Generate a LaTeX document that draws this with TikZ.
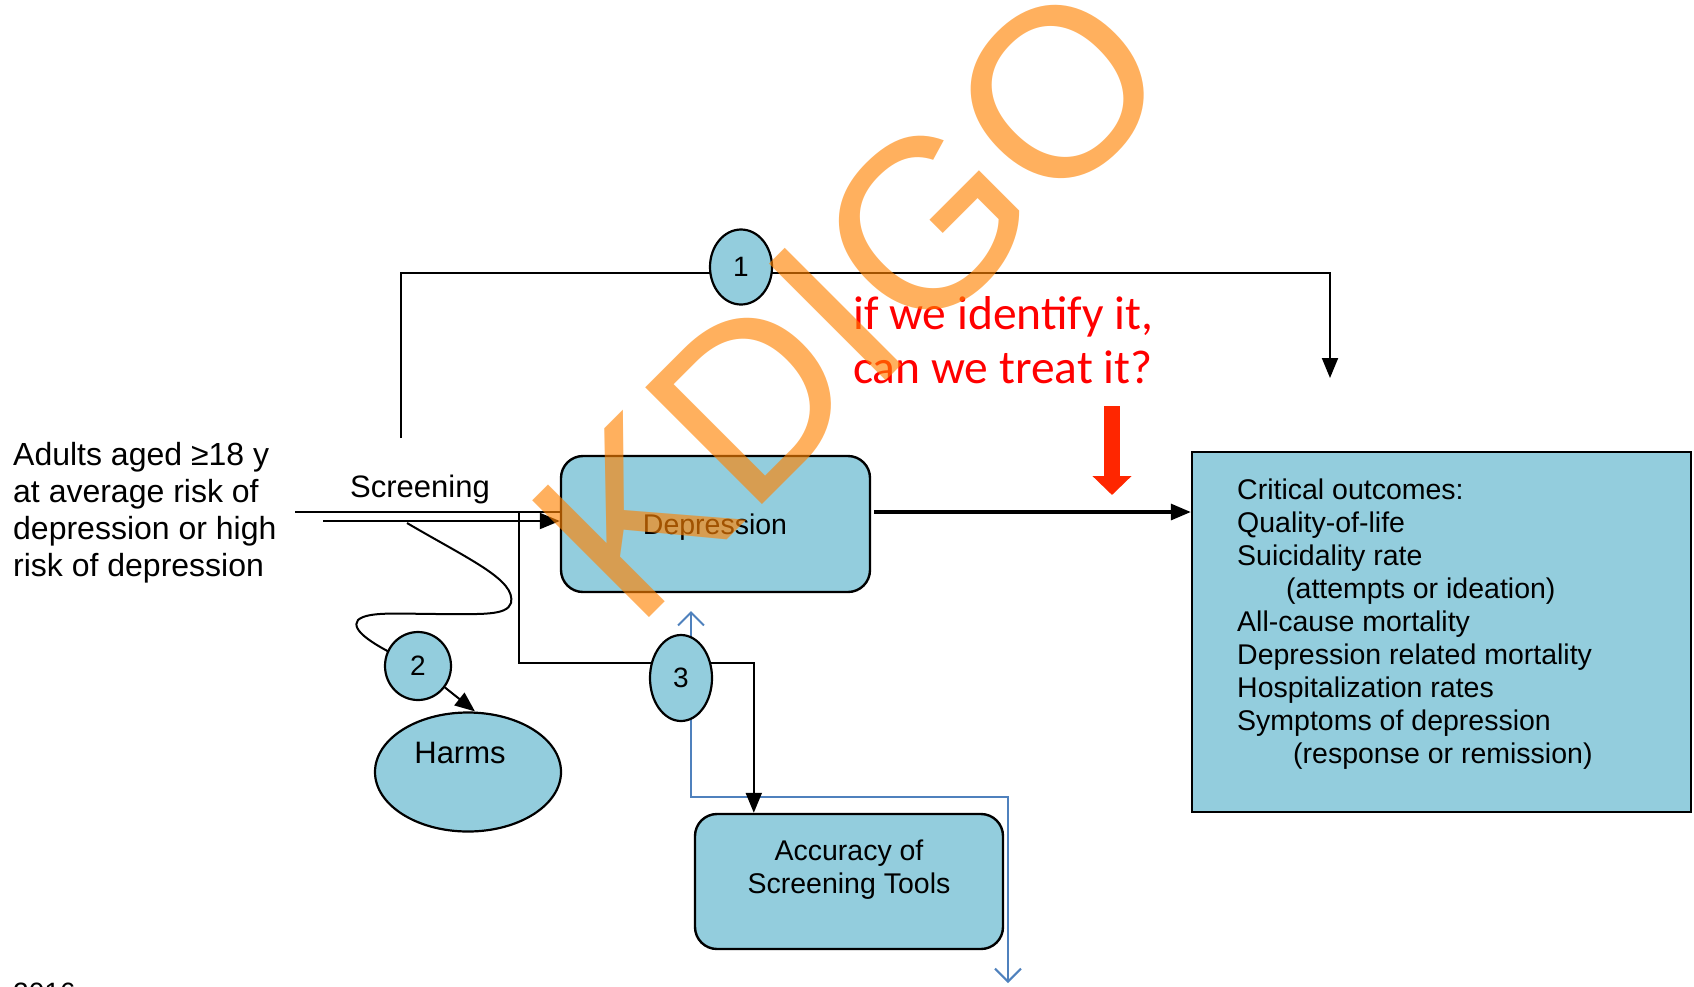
\documentclass[tikz,border=0pt]{standalone}
\usepackage{fontspec}
\setmainfont{Liberation Sans}
\newfontfamily\calibfont{Carlito}
\usetikzlibrary{arrows.meta,shapes.geometric,calc}
\pgfdeclarelayer{bg}
\pgfdeclarelayer{fg}
\pgfsetlayers{bg,main,fg}
\definecolor{boxblue}{HTML}{93CDDD}
\definecolor{linkblue}{HTML}{4F81BD}
\definecolor{wmorange}{RGB}{255,130,0}
\definecolor{arrowred}{HTML}{FF2600}
\begin{document}
\begin{tikzpicture}[x=1pt,y=-1pt,
  rbox/.style={draw=black, line width=2.4pt, fill=boxblue, rounded corners=22pt, inner sep=0pt},
  sbox/.style={draw=black, line width=2.4pt, fill=boxblue, inner sep=0pt},
  oval/.style={ellipse, draw=black, line width=2.2pt, fill=boxblue, inner sep=0pt},
  num/.style={oval, font=\fontsize{28}{33}\selectfont},
  txt/.style={inner sep=0pt, font=\fontsize{28.5}{33}\selectfont},
  conn/.style={draw=black, line width=2pt},
  tip/.style={-{Triangle[length=20pt,width=16pt]}},
  bluelink/.style={draw=linkblue, line width=2pt, -{Straight Barb[length=13pt,width=26pt]}}
]
\useasboundingbox (0,0) rectangle (1694,986);

% nodes
\node[rbox, minimum width=309pt, minimum height=136pt] (dep) at (715.5,524) {};
\node[txt] (deplabel) at (715,527) {Depression};
\node[sbox, minimum width=499pt, minimum height=360pt] (out) at (1441.5,632) {};
\node[txt, anchor=north west, align=left] (outtext) at (1237,479)
 {Critical outcomes:\\
  Quality-of-life\\
  Suicidality rate\\
  \hspace*{49pt}(attempts or ideation)\\
  All-cause mortality\\
  Depression related mortality\\
  Hospitalization rates\\
  Symptoms of depression\\
  \hspace*{56pt}(response or remission)};
\node[rbox, minimum width=308pt, minimum height=135pt] (acc) at (849,881.5) {};
\node[txt, anchor=north, align=center] (acctext) at (849,840) {Accuracy of\\Screening Tools};
\node[oval, minimum width=186pt, minimum height=119pt] (harms) at (468,772) {};
\node[inner sep=0pt, font=\fontsize{31}{36}\selectfont] (harmstext) at (460,753) {Harms};
\node[num, minimum width=62pt, minimum height=75pt] (c1) at (741,267) {1};
\node[num, minimum width=66pt, minimum height=68pt] (c2) at (418,666) {2};
\node[num, minimum width=62pt, minimum height=86pt] (c3) at (681,678) {3};
\node[inner sep=0pt, anchor=base, font=\fontsize{31}{36}\selectfont] (scr) at (420,497) {Screening};
\node[inner sep=0pt, anchor=north west, align=left, font=\fontsize{32}{37}\selectfont] (adults) at (13,442)
 {Adults aged ≥18 y\\at average risk of\\depression or high\\risk of depression};
\node[inner sep=0pt, anchor=north west, align=left, text=red, font=\calibfont\fontsize{47.5}{54}\selectfont] (q) at (853,296)
 {if we identify it,\\can we treat it?};
\node[inner sep=0pt, anchor=base west, font=\fontsize{28}{33}\selectfont] (year) at (13,1002) {2016};

% coordinates
\coordinate (topstart) at (401,438);
\coordinate (topend) at (1330,378);
\coordinate (c1line) at ($(c1.center)+(0,6)$);
\coordinate (in1) at (295,512);
\coordinate (in2) at (323,521);
\coordinate (br) at (519,512);
\coordinate (c3line) at ($(c3.center)+(0,-15)$);
\coordinate (accin) at ($(acc.north west)+(60,0)$);
\coordinate (mainstart) at ($(dep.east)+(3,-12)$);
\coordinate (wstart) at (407,523);
\coordinate (harmsin) at ($(harms.north)+(7,0)$);
\coordinate (b3) at ($(c3.center)+(10,0)$);
\coordinate (bupend) at (691,611);
\coordinate (bturn) at (1008,797);
\coordinate (bdownend) at (1008,983);
\coordinate (rtop) at (1112,406);
\coordinate (rtip) at (1112,495);

\begin{pgfonlayer}{bg}
  \draw[bluelink] (b3) -- (bupend);
  \draw[bluelink] (b3) |- (bturn) -- (bdownend);
  \draw[conn, tip] (topstart) |- (c1line) -| (topend);
  \draw[conn] (in1) -- (in1 -| dep.west);
  \draw[conn, tip] (in2) -- (in2 -| dep.west);
  \draw[conn, tip] (br) |- (c3line) -| (accin);
  \draw[conn] (wstart) .. controls (470,560) and (516,580) .. (511,603)
     .. controls (507,616) and (480,614) .. (440,614)
     .. controls (400,614) and (368,611) .. (358,620)
     .. controls (350,630) and (372,645) .. (c2.center);
  \draw[conn, tip] (c2) -- (harmsin);
  \draw[draw=black, line width=3.2pt, tip] (mainstart) -- (mainstart -| out.west);
  \draw[arrowred, line width=16pt, -{Triangle[length=19pt,width=38pt]}] (rtop) -- (rtip);
\end{pgfonlayer}

\begin{pgfonlayer}{fg}
  \node[rotate=45, anchor=base west, inner sep=0pt, text=wmorange, text opacity=0.63,
        font=\fontsize{240}{240}\selectfont] (kdigo) at (635,632) {KDIGO};
\end{pgfonlayer}
\end{tikzpicture}
\end{document}
